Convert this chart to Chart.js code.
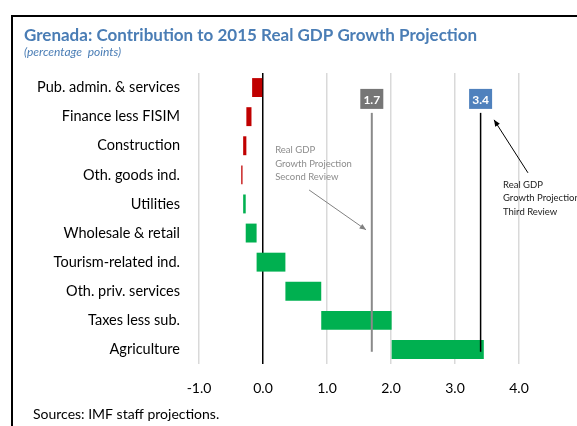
<!DOCTYPE html>
<html>
<head>
<meta charset="utf-8">
<script src="https://cdn.jsdelivr.net/npm/chart.js@4"></script>
<style>
  html, body { margin: 0; padding: 0; background: #fff; }
  #wrap { position: relative; width: 577px; height: 426px; }
</style>
</head>
<body>
<div id="wrap"><canvas id="gdp_chart"></canvas></div>
<script>
// data
const categories = [
    "Pub. admin. & services",
    "Finance less FISIM",
    "Construction",
    "Oth. goods ind.",
    "Utilities",
    "Wholesale & retail",
    "Tourism-related ind.",
    "Oth. priv. services",
    "Taxes less sub.",
    "Agriculture",
];
const barLow = [-0.17, -0.26, -0.31, -0.34, -0.31, -0.27, -0.1, 0.35, 0.91, 2.01];
const barHigh = [0, -0.18, -0.26, -0.32, -0.27, -0.1, 0.35, 0.91, 2.01, 3.45];
const isNegative = [true, true, true, true, false, false, false, false, false, false];
const xTicks = [-1, 0, 1, 2, 3, 4];
const secondReview = 1.7;
const thirdReview = 3.4;

const RED = "#c00000";
const GREEN = "#00b050";
const FONT = "Lato, 'Open Sans', sans-serif";

const ctx = document.querySelector("#gdp_chart").getContext("2d");

// annotation lines, labels, arrows and frame
const extrasPlugin = {
    id: "extras",
    afterDatasetsDraw(chart) {
        const c = chart.ctx;
        const x = chart.scales.x;
        const y = chart.scales.y;
        const px = (v) => x.getPixelForValue(v);
        const py = (v) => y.getPixelForValue(v);

        c.save();

        // projection lines
        const marker = (value, lineColor, lineWidth, boxColor) => {
            c.strokeStyle = lineColor;
            c.lineWidth = lineWidth;
            c.beginPath();
            c.moveTo(px(value), py(0.87));
            c.lineTo(px(value), py(9.08));
            c.stroke();
            const bx = px(value);
            const by = py(0.39);
            c.fillStyle = boxColor;
            c.fillRect(bx - 11.5, by - 10, 23, 20);
            c.fillStyle = "#fff";
            c.font = "bold 12px " + FONT;
            c.textAlign = "center";
            c.textBaseline = "middle";
            c.fillText(value.toFixed(1), bx, by + 1);
        };
        marker(secondReview, "#8a8a8a", 2, "#767676");
        marker(thirdReview, "#000", 1.5, "#4f81bd");

        // arrows
        const arrow = (x0, y0, x1, y1, color) => {
            const ax = px(x0), ay = py(y0), bx = px(x1), by = py(y1);
            c.strokeStyle = color;
            c.fillStyle = color;
            c.lineWidth = 1;
            c.beginPath();
            c.moveTo(ax, ay);
            c.lineTo(bx, by);
            c.stroke();
            const ang = Math.atan2(by - ay, bx - ax);
            c.beginPath();
            c.moveTo(bx, by);
            c.lineTo(bx - 7 * Math.cos(ang - 0.4), by - 7 * Math.sin(ang - 0.4));
            c.lineTo(bx - 7 * Math.cos(ang + 0.4), by - 7 * Math.sin(ang + 0.4));
            c.closePath();
            c.fill();
        };
        arrow(0.72, 3.52, 1.61, 4.89, "#808080");
        arrow(4.14, 2.93, 3.61, 1.11, "#000");

        // annotation texts
        c.textAlign = "left";
        c.textBaseline = "middle";
        c.font = "9.5px " + FONT;
        c.fillStyle = "#8c8c8c";
        ["Real GDP", "Growth Projection", "Second Review"].forEach((t, i) => {
            c.fillText(t, px(0.19), py(2.14 + i * 0.47));
        });
        c.fillStyle = "#222";
        ["Real GDP", "Growth Projection", "Third Review"].forEach((t, i) => {
            c.fillText(t, px(3.75), py(3.35 + i * 0.46));
        });

        c.restore();
    },
    afterDraw(chart) {
        const c = chart.ctx;
        c.save();
        // frame
        c.strokeStyle = "#000";
        c.lineWidth = 2;
        c.beginPath();
        c.moveTo(12, 430);
        c.lineTo(12, 16);
        c.lineTo(580, 16);
        c.stroke();

        // title
        c.textAlign = "left";
        c.textBaseline = "alphabetic";
        c.fillStyle = "#4a7db5";
        c.font = "bold 17px " + FONT;
        c.fillText("Grenada: Contribution to 2015 Real GDP Growth Projection", 24, 41);
        c.font = "italic 12px " + FONT;
        c.fillText("(percentage  points)", 24, 56);

        // source
        c.fillStyle = "#000";
        c.font = "14px " + FONT;
        c.fillText("Sources: IMF staff projections.", 33, 419);
        c.restore();
    },
};

const chartData = {
    labels: categories,
    datasets: [
        {
            label: "Contribution",
            data: barLow.map((lo, i) => [lo, barHigh[i]]),
            backgroundColor: isNegative.map((n) => (n ? RED : GREEN)),
            borderWidth: 0,
            borderSkipped: false,
            barPercentage: 0.65,
            categoryPercentage: 1,
        },
    ],
};

const chartOptions = {
    indexAxis: "y",
    responsive: true,
    maintainAspectRatio: false,
    animation: false,
    layout: {
        padding: { left: 20, top: 73, right: 58, bottom: 0 },
    },
    plugins: {
        legend: { display: false },
        tooltip: { enabled: false },
    },
    scales: {
        x: {
            min: xTicks[0],
            max: xTicks[xTicks.length - 1],
            afterBuildTicks: (scale) => {
                scale.ticks = xTicks.map((v) => ({ value: v }));
            },
            afterFit: (scale) => {
                scale.height = 62;
            },
            ticks: {
                padding: 16,
                color: "#000",
                font: { family: FONT, size: 14 },
                callback: (v) => Number(v).toFixed(1),
            },
            grid: {
                drawTicks: false,
                lineWidth: 1.5,
                color: (context) => (context.tick && context.tick.value === 0 ? "#000" : "#d9d9d9"),
            },
            border: { display: false },
        },
        y: {
            afterFit: (scale) => {
                scale.width = 179;
            },
            ticks: {
                padding: 11,
                color: "#000",
                font: { family: FONT, size: 14.5 },
            },
            grid: { display: false },
            border: { display: false },
        },
    },
};

const gdp = new Chart(ctx, {
    type: "bar",
    data: chartData,
    options: chartOptions,
    plugins: [extrasPlugin],
});
</script>
</body>
</html>
